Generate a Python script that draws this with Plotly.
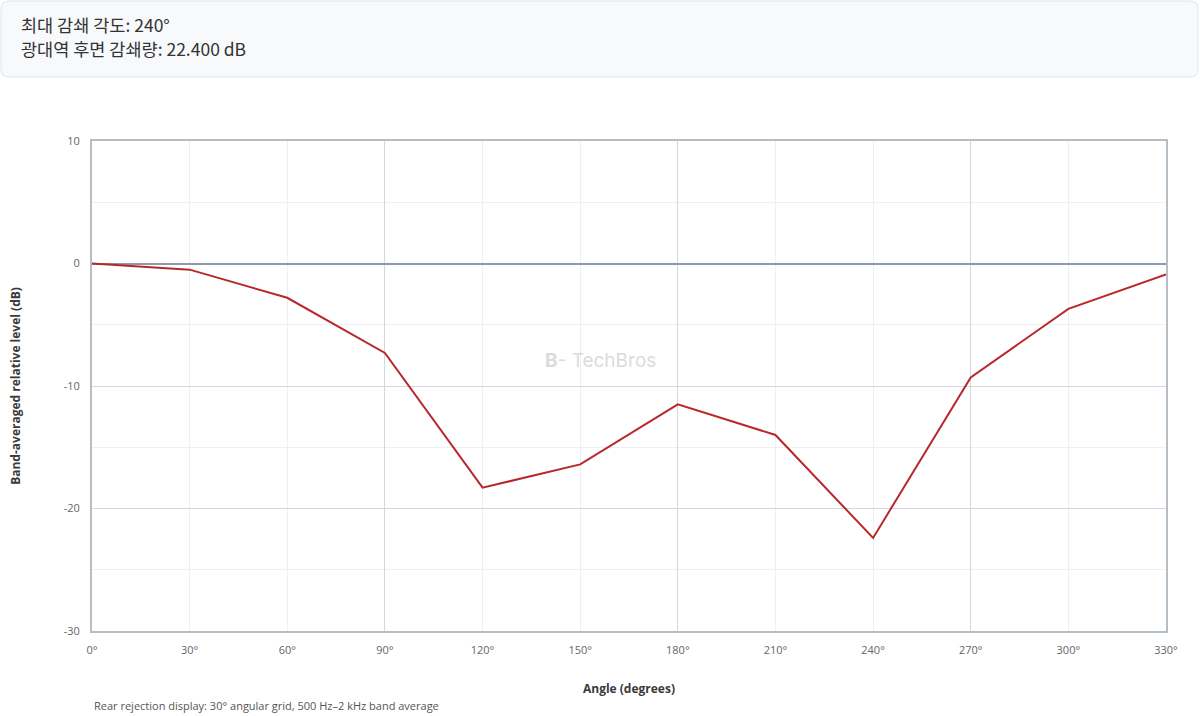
import plotly.graph_objects as go

# --- data ---
angles = [0, 30, 60, 90, 120, 150, 180, 210, 240, 270, 300, 330]
level_db = [0.0, -0.5, -2.8, -7.3, -18.3, -16.4, -11.5, -14.0, -22.4, -9.3, -3.7, -0.9]
tick_labels = [f"{a}°" for a in angles]
y_ticks = [-30, -20, -10, 0, 10]
y_tick_labels = [str(v) for v in y_ticks]

W, H = 1200, 716
L, R, T, B = 92, 34, 141, 85
pw, ph = W - L - R, H - T - B


def px_x(x):
    return (x - L) / pw


def px_y(y):
    return (H - B - y) / ph


worst = min(range(len(level_db)), key=lambda i: level_db[i])
worst_angle = angles[worst]
worst_drop = -level_db[worst]

font = "Open Sans, Noto Sans, sans-serif"
kr_font = "Noto Sans CJK KR, Noto Sans, sans-serif"

fig = go.Figure()
fig.add_trace(go.Scatter(
    x=angles,
    y=level_db,
    mode="lines",
    line=dict(color="#b8282b", width=2),
    hovertemplate="%{x}°<br>%{y:.1f} dB<extra></extra>",
    showlegend=False,
))
# dummy trace so the second x axis (darker 90° grid) is drawn
fig.add_trace(go.Scatter(x=[angles[0]], y=[level_db[0]], xaxis="x2",
                         mode="markers", marker=dict(opacity=0),
                         hoverinfo="skip", showlegend=False))

# header box with rounded corners (paper coords)
x0, x1 = px_x(1), px_x(1198)
y0, y1 = px_y(77), px_y(1)
rx, ry = 8 / pw, 8 / ph
path = (f"M {x0+rx},{y1} L {x1-rx},{y1} Q {x1},{y1} {x1},{y1-ry} "
        f"L {x1},{y0+ry} Q {x1},{y0} {x1-rx},{y0} "
        f"L {x0+rx},{y0} Q {x0},{y0} {x0},{y0+ry} "
        f"L {x0},{y1-ry} Q {x0},{y1} {x0+rx},{y1} Z")
fig.add_shape(type="path", path=path, xref="paper", yref="paper",
              fillcolor="#f8f9fb", line=dict(color="#dfe3e8", width=1), layer="below")

fig.add_annotation(text=f"최대 감쇄 각도: {worst_angle}°", xref="paper", yref="paper",
                   x=px_x(19), y=px_y(24), xanchor="left", yanchor="middle",
                   showarrow=False, font=dict(family=kr_font, size=17.5, color="#333333"))
fig.add_annotation(text=f"광대역 후면 감쇄량: {worst_drop:.3f} dB", xref="paper", yref="paper",
                   x=px_x(19), y=px_y(49), xanchor="left", yanchor="middle",
                   showarrow=False, font=dict(family=kr_font, size=17.5, color="#333333"))

# watermark
fig.add_annotation(text="<b>B</b>- TechBros", xref="paper", yref="paper",
                   x=px_x(600), y=px_y(360), xanchor="center", yanchor="middle",
                   showarrow=False, opacity=0.35,
                   font=dict(family="Inter, Noto Sans, sans-serif", size=19, color="#9a9a9a"))

# footnote
fig.add_annotation(text="Rear rejection display: 30° angular grid, 500 Hz–2 kHz band average",
                   xref="paper", yref="paper", x=0, y=px_y(705),
                   xanchor="left", yanchor="middle", showarrow=False,
                   font=dict(family=font, size=11, color="#555555"))

fig.update_layout(
    width=W, height=H,
    margin=dict(l=L, r=R, t=T, b=B),
    paper_bgcolor="white",
    plot_bgcolor="white",
    font=dict(family=font, size=11, color="#555555"),
    xaxis=dict(
        range=[0, 330],
        tickvals=angles, ticktext=tick_labels,
        showgrid=True, gridcolor="#edf0f3", gridwidth=1,
        showline=True, linecolor="#b5bdc5", linewidth=2, mirror=True,
        ticks="outside", ticklen=8, tickcolor="rgba(0,0,0,0)", zeroline=False,
        title=dict(text="<b>Angle (degrees)</b>", standoff=28,
                   font=dict(size=12, color="#3a3a3a")),
        tickfont=dict(size=11, color="#666666"),
    ),
    xaxis2=dict(
        overlaying="x", matches="x", side="bottom",
        tickvals=[90, 180, 270], showticklabels=False,
        showgrid=True, gridcolor="#d3d8de", gridwidth=1,
        showline=False, zeroline=False, ticks="",
    ),
    yaxis=dict(
        range=[-30, 10],
        tickvals=y_ticks, ticktext=y_tick_labels,
        showgrid=True, gridcolor="#d3d8de", gridwidth=1,
        minor=dict(dtick=5, showgrid=True, gridcolor="#eef0f3"),
        showline=True, linecolor="#b5bdc5", linewidth=2, mirror=True,
        zeroline=True, zerolinecolor="#8d99a6", zerolinewidth=2,
        ticks="outside", ticklen=8, tickcolor="rgba(0,0,0,0)",
        title=dict(text="<b>Band-averaged relative level (dB)</b>", standoff=40,
                   font=dict(size=12, color="#3a3a3a")),
        tickfont=dict(size=11, color="#666666"),
    ),
    hovermode="closest",
)

# drop the default page margin so the figure sits at the window's top-left corner
fig.write_html("out.html", config={"displayModeBar": False},
               post_script="document.body.style.margin='0';")
